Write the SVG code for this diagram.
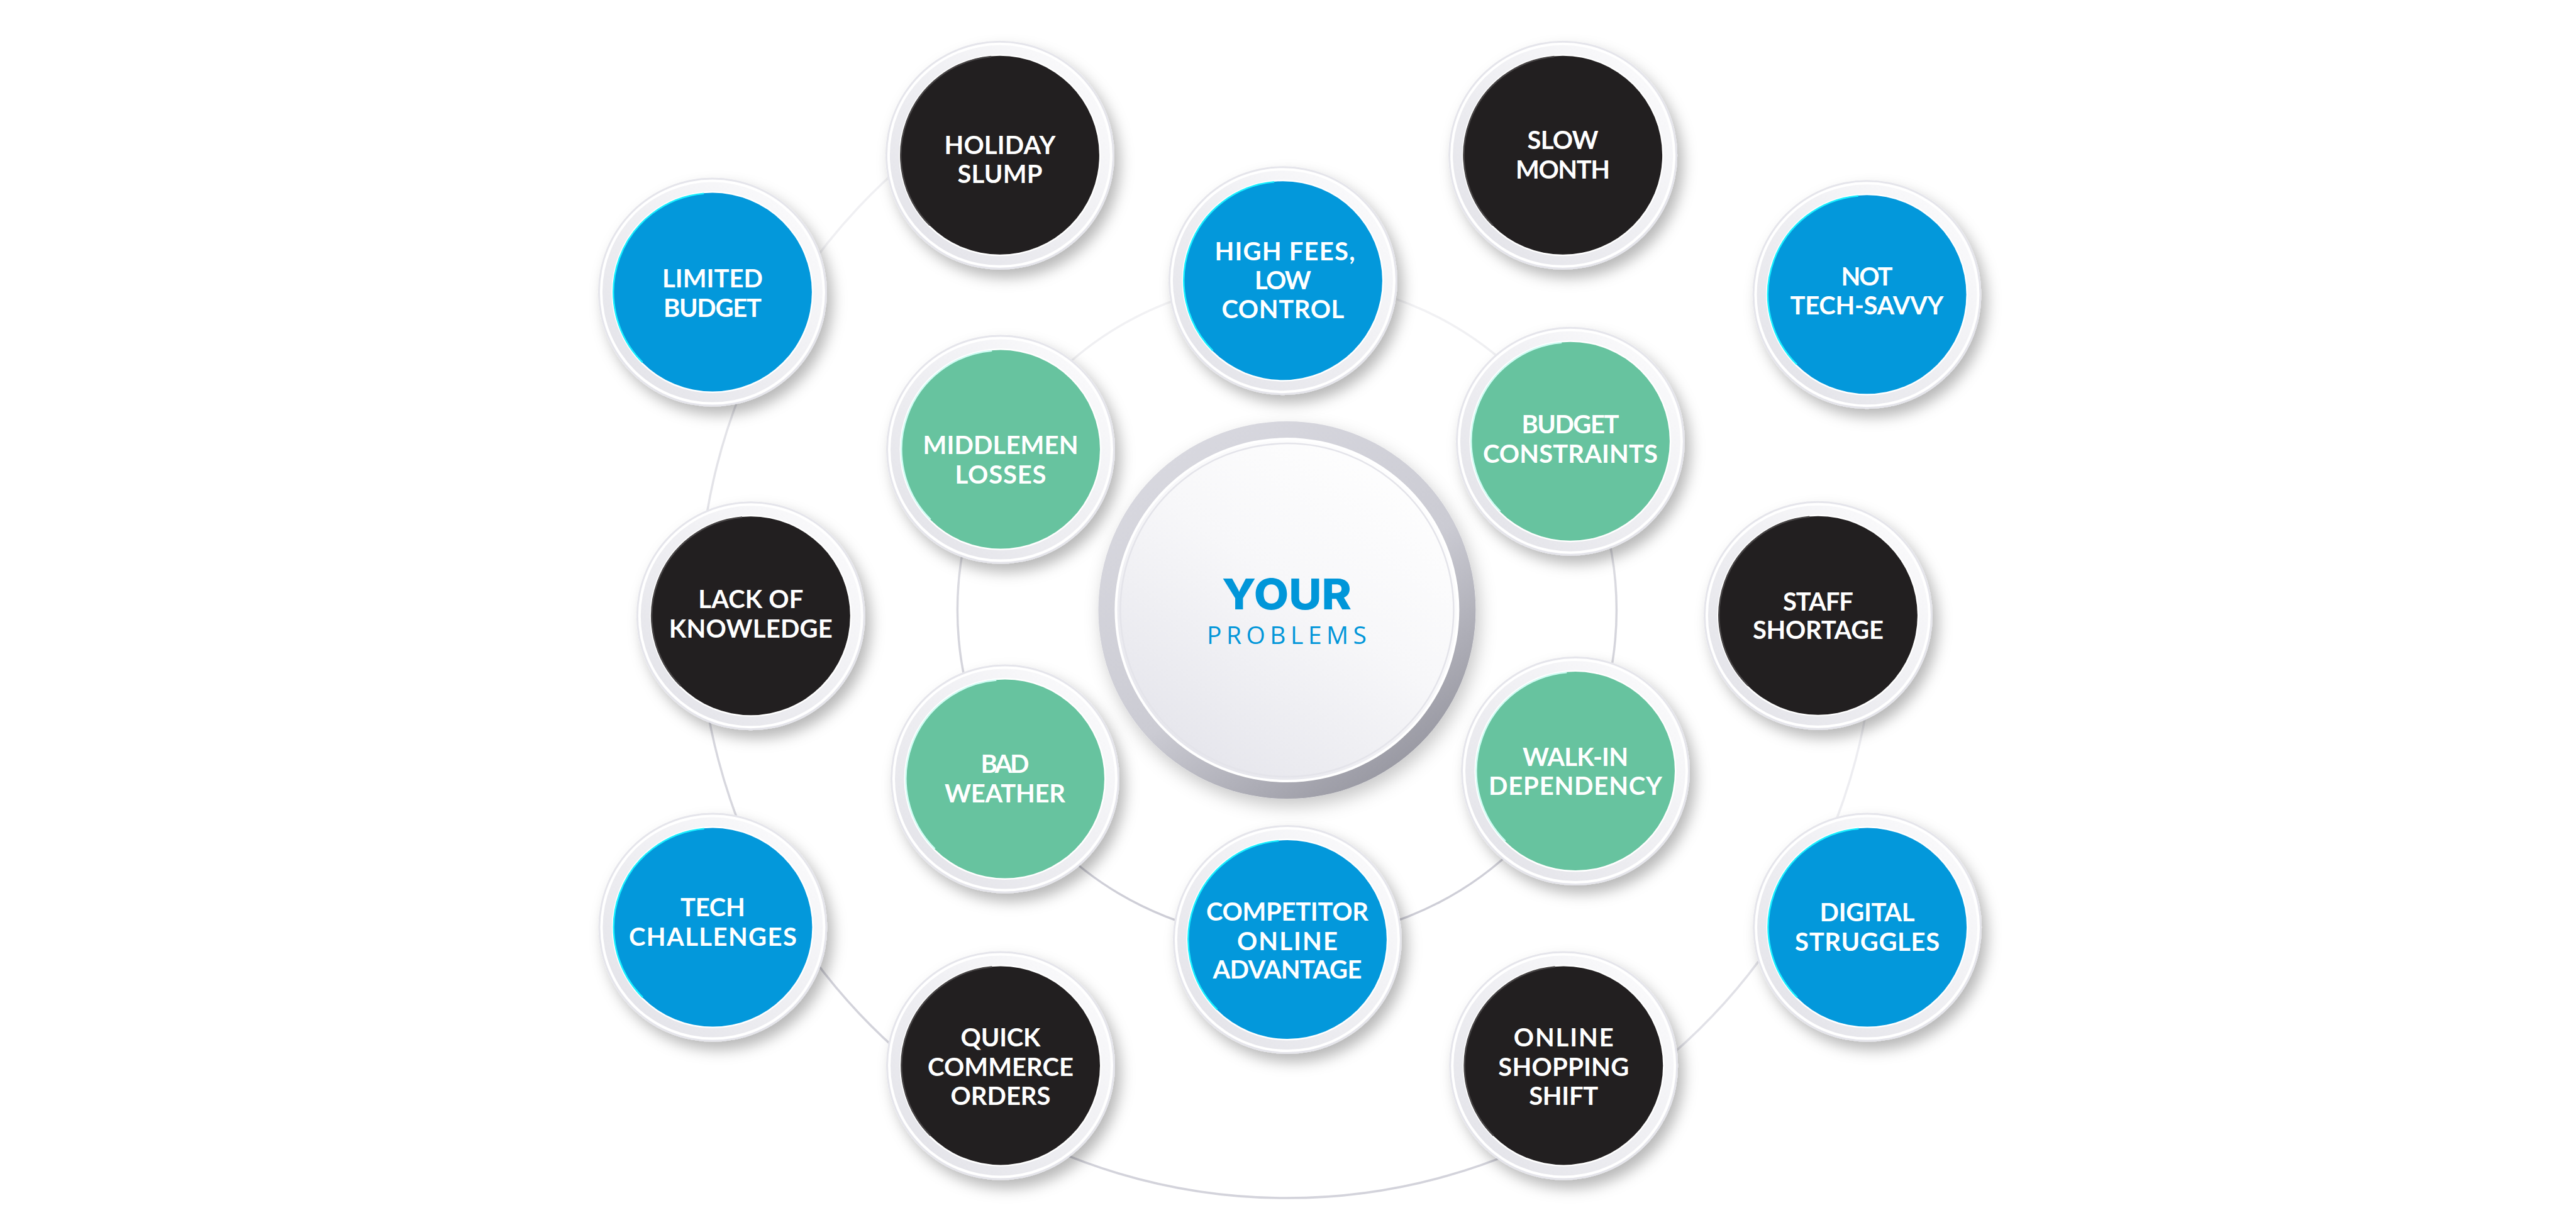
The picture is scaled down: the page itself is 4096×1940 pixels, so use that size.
<svg xmlns="http://www.w3.org/2000/svg" xmlns:xlink="http://www.w3.org/1999/xlink" width="4096" height="1940" viewBox="0 0 4096 1940">
<style>
.lbl{font-family:Lato,"Noto Sans","Liberation Sans",sans-serif;font-weight:700;font-size:40px;fill:#ffffff;text-anchor:middle}
.blue{fill:#0398DB}
.green{fill:#67C39F}
.black{fill:#221F20}
.hb{stroke:#19F0FF;stroke-width:2.5;fill:none}
.hg{stroke:#CFFCF3;stroke-width:2.5;fill:none}
.hk{stroke:#474445;stroke-width:2.5;fill:none}
.ring{fill:none;stroke-width:3.5}
</style>
<defs>
<filter id="nsh" x="-40%" y="-40%" width="190%" height="190%">
<feDropShadow dx="9" dy="13" stdDeviation="11" flood-color="#000000" flood-opacity="0.28"/>
</filter>
<filter id="csh" x="-30%" y="-30%" width="160%" height="160%">
<feDropShadow dx="6" dy="12" stdDeviation="14" flood-color="#000000" flood-opacity="0.22"/>
</filter>
<linearGradient id="rimg" x1="1" y1="0" x2="0" y2="1">
<stop offset="0" stop-color="#fdfdfe"/>
<stop offset="1" stop-color="#e1e1e7"/>
</linearGradient>
<linearGradient id="cring" x1="0.15" y1="0" x2="0.85" y2="1">
<stop offset="0" stop-color="#dadae1"/>
<stop offset="0.55" stop-color="#cbcbd3"/>
<stop offset="1" stop-color="#8e8e98"/>
</linearGradient>
<linearGradient id="cdisc" x1="0.85" y1="0" x2="0.15" y2="1">
<stop offset="0" stop-color="#ffffff"/>
<stop offset="0.45" stop-color="#f7f7f9"/>
<stop offset="1" stop-color="#e3e3ea"/>
</linearGradient>
<linearGradient id="innerRing" gradientUnits="userSpaceOnUse" x1="0" y1="446" x2="0" y2="1494">
<stop offset="0" stop-color="#f3f3f5"/>
<stop offset="0.3" stop-color="#e8e8ec"/>
<stop offset="0.5" stop-color="#d6d6dd"/>
<stop offset="1" stop-color="#cdcdd6"/>
</linearGradient>
<g id="rim">
<circle r="182" fill="#e5e5eb" filter="url(#nsh)"/>
<circle r="179" fill="#ffffff"/>
<circle r="175" fill="url(#rimg)"/>
<circle r="160.5" fill="#ffffff"/>
</g>
<path id="hl" d="M -111.4 111.4 A 157.5 157.5 0 0 1 -13.7 -156.9"/>
</defs>
<rect width="4096" height="1940" fill="#ffffff"/>

<g id="connectors">
<circle class="ring" cx="2046.4" cy="970.1" r="524" stroke="url(#innerRing)"/>
<path class="ring" d="M 2981.3 979.9 A 935 935 0 0 1 2866.5 1419.1" stroke="#ededf1"/>
<path class="ring" d="M 2866.5 1419.1 A 935 935 0 0 1 2532.1 1769.0" stroke="#e1e1e7"/>
<path class="ring" d="M 2532.1 1769.0 A 935 935 0 0 1 1548.1 1761.3" stroke="#d3d3db"/>
<path class="ring" d="M 1548.1 1761.3 A 935 935 0 0 1 1227.8 1422.0" stroke="#d3d3db"/>
<path class="ring" d="M 1227.8 1422.0 A 935 935 0 0 1 1111.4 979.9" stroke="#d7d7de"/>
<path class="ring" d="M 1111.4 979.9 A 935 935 0 0 1 1228.2 517.5" stroke="#e3e3e8"/>
<path class="ring" d="M 1228.2 517.5 A 935 935 0 0 1 1546.7 179.7" stroke="#f0f0f3"/>
</g>

<g id="center">
<circle cx="2046.4" cy="970.1" r="300" fill="url(#cring)" filter="url(#csh)"/>
<circle cx="2046.4" cy="970.1" r="274" fill="#ffffff"/>
<circle cx="2046.4" cy="970.1" r="270" fill="url(#cdisc)"/>
<circle cx="2046.4" cy="970.1" r="265" fill="none" stroke="#e4e4ea" stroke-width="2.5"/>
<text x="2046" y="968.5" font-family="Inter,'Open Sans','Liberation Sans',sans-serif" font-weight="800" font-size="67" fill="#0096D9" text-anchor="middle" textLength="206" lengthAdjust="spacingAndGlyphs">YOUR</text>
<text x="2046" y="1023.6" font-family="'Open Sans','Liberation Sans',sans-serif" font-weight="400" font-size="39" fill="#0096D9" text-anchor="middle" textLength="254" lengthAdjust="spacing">PROBLEMS</text>
</g>

<g id="n-limited-budget">
<use href="#rim" transform="translate(1132.9,464.6)"/>
<circle class="blue" cx="1132.9" cy="464.6" r="158"/>
<use href="#hl" class="hb" transform="translate(1132.9,464.6)"/>
<text class="lbl" x="1132.9" y="457.1" textLength="160" lengthAdjust="spacing">LIMITED</text>
<text class="lbl" x="1132.9" y="503.6" textLength="156" lengthAdjust="spacing">BUDGET</text>
</g>

<g id="n-holiday-slump">
<use href="#rim" transform="translate(1589.9,246.8)"/>
<circle class="black" cx="1589.9" cy="246.8" r="158"/>
<use href="#hl" class="hk" transform="translate(1589.9,246.8)"/>
<text class="lbl" x="1589.9" y="245.2" textLength="177" lengthAdjust="spacing">HOLIDAY</text>
<text class="lbl" x="1589.9" y="290.8" textLength="135" lengthAdjust="spacing">SLUMP</text>
</g>

<g id="n-slow-month">
<use href="#rim" transform="translate(2485.1,246.8)"/>
<circle class="black" cx="2485.1" cy="246.8" r="158"/>
<use href="#hl" class="hk" transform="translate(2485.1,246.8)"/>
<text class="lbl" x="2485.1" y="237.1" textLength="113" lengthAdjust="spacing">SLOW</text>
<text class="lbl" x="2485.1" y="283.8" textLength="150" lengthAdjust="spacing">MONTH</text>
</g>

<g id="n-not-tech-savvy">
<use href="#rim" transform="translate(2968.5,468.3)"/>
<circle class="blue" cx="2968.5" cy="468.3" r="158"/>
<use href="#hl" class="hb" transform="translate(2968.5,468.3)"/>
<text class="lbl" x="2968.5" y="453.8" textLength="82" lengthAdjust="spacing">NOT</text>
<text class="lbl" x="2968.5" y="500.3" textLength="244" lengthAdjust="spacing">TECH-SAVVY</text>
</g>

<g id="n-staff-shortage">
<use href="#rim" transform="translate(2890.9,978.7)"/>
<circle class="black" cx="2890.9" cy="978.7" r="158"/>
<use href="#hl" class="hk" transform="translate(2890.9,978.7)"/>
<text class="lbl" x="2890.9" y="970.7" textLength="112" lengthAdjust="spacing">STAFF</text>
<text class="lbl" x="2890.9" y="1015.7" textLength="208" lengthAdjust="spacing">SHORTAGE</text>
</g>

<g id="n-digital-struggles">
<use href="#rim" transform="translate(2969.1,1474.6)"/>
<circle class="blue" cx="2969.1" cy="1474.6" r="158"/>
<use href="#hl" class="hb" transform="translate(2969.1,1474.6)"/>
<text class="lbl" x="2969.1" y="1464.9" textLength="151" lengthAdjust="spacing">DIGITAL</text>
<text class="lbl" x="2969.1" y="1511.6" textLength="230" lengthAdjust="spacing">STRUGGLES</text>
</g>

<g id="n-online-shopping-shift">
<use href="#rim" transform="translate(2486.2,1694.4)"/>
<circle class="black" cx="2486.2" cy="1694.4" r="158"/>
<use href="#hl" class="hk" transform="translate(2486.2,1694.4)"/>
<text class="lbl" x="2486.2" y="1664.4" textLength="159" lengthAdjust="spacing">ONLINE</text>
<text class="lbl" x="2486.2" y="1711.4" textLength="208" lengthAdjust="spacing">SHOPPING</text>
<text class="lbl" x="2486.2" y="1757.4" textLength="110" lengthAdjust="spacing">SHIFT</text>
</g>

<g id="n-quick-commerce-orders">
<use href="#rim" transform="translate(1591,1694.4)"/>
<circle class="black" cx="1591" cy="1694.4" r="158"/>
<use href="#hl" class="hk" transform="translate(1591,1694.4)"/>
<text class="lbl" x="1591" y="1664.4" textLength="127" lengthAdjust="spacing">QUICK</text>
<text class="lbl" x="1591" y="1711.1" textLength="232" lengthAdjust="spacing">COMMERCE</text>
<text class="lbl" x="1591" y="1757.4" textLength="159" lengthAdjust="spacing">ORDERS</text>
</g>

<g id="n-tech-challenges">
<use href="#rim" transform="translate(1133.4,1474.6)"/>
<circle class="blue" cx="1133.4" cy="1474.6" r="158"/>
<use href="#hl" class="hb" transform="translate(1133.4,1474.6)"/>
<text class="lbl" x="1133.4" y="1457.1" textLength="103" lengthAdjust="spacing">TECH</text>
<text class="lbl" x="1133.4" y="1504.2" textLength="267" lengthAdjust="spacing">CHALLENGES</text>
</g>

<g id="n-lack-of-knowledge">
<use href="#rim" transform="translate(1193.8,979.3)"/>
<circle class="black" cx="1193.8" cy="979.3" r="158"/>
<use href="#hl" class="hk" transform="translate(1193.8,979.3)"/>
<text class="lbl" x="1193.8" y="966.8" textLength="167" lengthAdjust="spacing">LACK OF</text>
<text class="lbl" x="1193.8" y="1013.8" textLength="260" lengthAdjust="spacing">KNOWLEDGE</text>
</g>

<g id="n-high-fees-low-control">
<use href="#rim" transform="translate(2039.9,446.2)"/>
<circle class="blue" cx="2039.9" cy="446.2" r="158"/>
<use href="#hl" class="hb" transform="translate(2039.9,446.2)"/>
<text class="lbl" x="2043" y="414.2" textLength="223" lengthAdjust="spacing">HIGH FEES,</text>
<text class="lbl" x="2039.9" y="460.2" textLength="90" lengthAdjust="spacing">LOW</text>
<text class="lbl" x="2039.9" y="506.2" textLength="195" lengthAdjust="spacing">CONTROL</text>
</g>

<g id="n-budget-constraints">
<use href="#rim" transform="translate(2496.9,701.7)"/>
<circle class="green" cx="2496.9" cy="701.7" r="158"/>
<use href="#hl" class="hg" transform="translate(2496.9,701.7)"/>
<text class="lbl" x="2496.9" y="689.3" textLength="155" lengthAdjust="spacing">BUDGET</text>
<text class="lbl" x="2496.9" y="735.7" textLength="278" lengthAdjust="spacing">CONSTRAINTS</text>
</g>

<g id="n-walk-in-dependency">
<use href="#rim" transform="translate(2505,1226.1)"/>
<circle class="green" cx="2505" cy="1226.1" r="158"/>
<use href="#hl" class="hg" transform="translate(2505,1226.1)"/>
<text class="lbl" x="2505" y="1218.1" textLength="168" lengthAdjust="spacing">WALK-IN</text>
<text class="lbl" x="2505" y="1264.1" textLength="276" lengthAdjust="spacing">DEPENDENCY</text>
</g>

<g id="n-competitor-online-advantage">
<use href="#rim" transform="translate(2046.9,1494)"/>
<circle class="blue" cx="2046.9" cy="1494" r="158"/>
<use href="#hl" class="hb" transform="translate(2046.9,1494)"/>
<text class="lbl" x="2046.9" y="1464" textLength="258" lengthAdjust="spacing">COMPETITOR</text>
<text class="lbl" x="2046.9" y="1511" textLength="160" lengthAdjust="spacing">ONLINE</text>
<text class="lbl" x="2046.9" y="1556" textLength="237" lengthAdjust="spacing">ADVANTAGE</text>
</g>

<g id="n-bad-weather">
<use href="#rim" transform="translate(1598,1238.5)"/>
<circle class="green" cx="1598" cy="1238.5" r="158"/>
<use href="#hl" class="hg" transform="translate(1598,1238.5)"/>
<text class="lbl" x="1598" y="1228.5" textLength="77" lengthAdjust="spacing">BAD</text>
<text class="lbl" x="1598" y="1275.5" textLength="192" lengthAdjust="spacing">WEATHER</text>
</g>

<g id="n-middlemen-losses">
<use href="#rim" transform="translate(1591,714.6)"/>
<circle class="green" cx="1591" cy="714.6" r="158"/>
<use href="#hl" class="hg" transform="translate(1591,714.6)"/>
<text class="lbl" x="1591" y="722.1" textLength="247" lengthAdjust="spacing">MIDDLEMEN</text>
<text class="lbl" x="1591" y="768.6" textLength="145" lengthAdjust="spacing">LOSSES</text>
</g>
</svg>
